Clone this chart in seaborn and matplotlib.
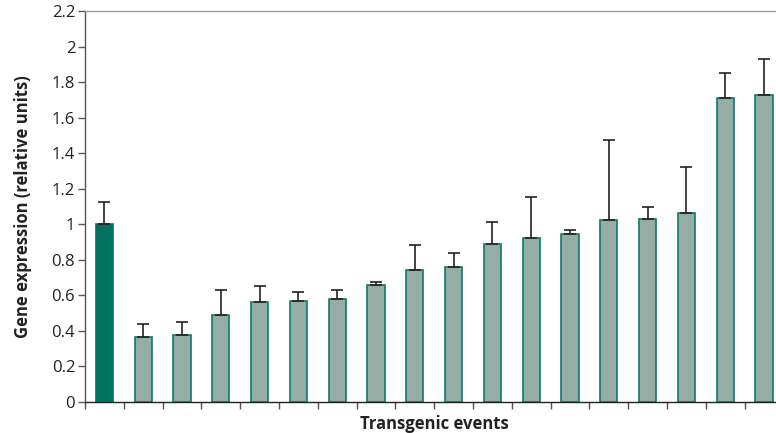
import numpy as np
import pandas as pd
import seaborn as sns
from matplotlib import pyplot as plt
from matplotlib.ticker import MultipleLocator, FuncFormatter

# Werte
events = [f"E{i}" for i in range(1, 19)]
expression = [1.00, 0.365, 0.375, 0.49, 0.565, 0.57, 0.58, 0.66, 0.74,
              0.76, 0.89, 0.925, 0.948, 1.022, 1.032, 1.062, 1.709, 1.729]
err_top = [1.125, 0.44, 0.448, 0.628, 0.655, 0.62, 0.63, 0.673, 0.885,
           0.84, 1.015, 1.155, 0.968, 1.473, 1.098, 1.324, 1.853, 1.928]

df = pd.DataFrame({"event": events, "value": expression})
df["err"] = np.array(err_top) - df["value"]

sns.set_style("white")
plt.rcParams["font.family"] = ["Open Sans", "DejaVu Sans"]

fig = plt.figure(figsize=(7.76, 4.33), dpi=100)
ax = fig.add_axes([0.1095, 0.0716, 0.9, 0.903])

colors = ["#00725F"] + ["#94ADA5"] * (len(events) - 1)
sns.barplot(data=df, x="event", y="value", hue="event", palette=colors,
            legend=False, width=0.44, edgecolor="#0E7A68", linewidth=1.2,
            saturation=1, ax=ax)
ax.patches[0].set_edgecolor("#00725F")

ax.errorbar(np.arange(len(events)), df["value"],
            yerr=[np.zeros(len(events)), df["err"]],
            fmt="none", ecolor="#222222", elinewidth=1.2, capsize=4.3,
            capthick=1.2)

ax.set_xlim(-0.5, 17.5)
ax.set_ylim(0, 2.2)
ax.yaxis.set_major_locator(MultipleLocator(0.2))
ax.yaxis.set_major_formatter(FuncFormatter(lambda v, p: f"{v:.1f}".rstrip("0").rstrip(".")))
ax.set_xticks(np.arange(-0.5, 17.5, 1.0))
ax.set_xticklabels([])

ax.tick_params(axis="y", direction="out", length=5, width=1, color="#555555",
               labelsize=12, labelcolor="#222222", left=True, pad=2)
ax.tick_params(axis="x", direction="out", length=5, width=1, color="#555555",
               bottom=True)

ax.spines["right"].set_visible(False)
ax.spines["top"].set_color("#999999")
ax.spines["left"].set_color("#555555")
ax.spines["bottom"].set_color("#222222")
for s in ["top", "left", "bottom"]:
    ax.spines[s].set_linewidth(1)

ax.set_ylabel("Gene expression (relative units)", fontsize=12, fontweight="bold",
              color="#222222", labelpad=14)
ax.set_xlabel("Transgenic events", fontsize=12, fontweight="bold",
              color="#222222", labelpad=1)

fig.savefig("out.png", dpi=100)
